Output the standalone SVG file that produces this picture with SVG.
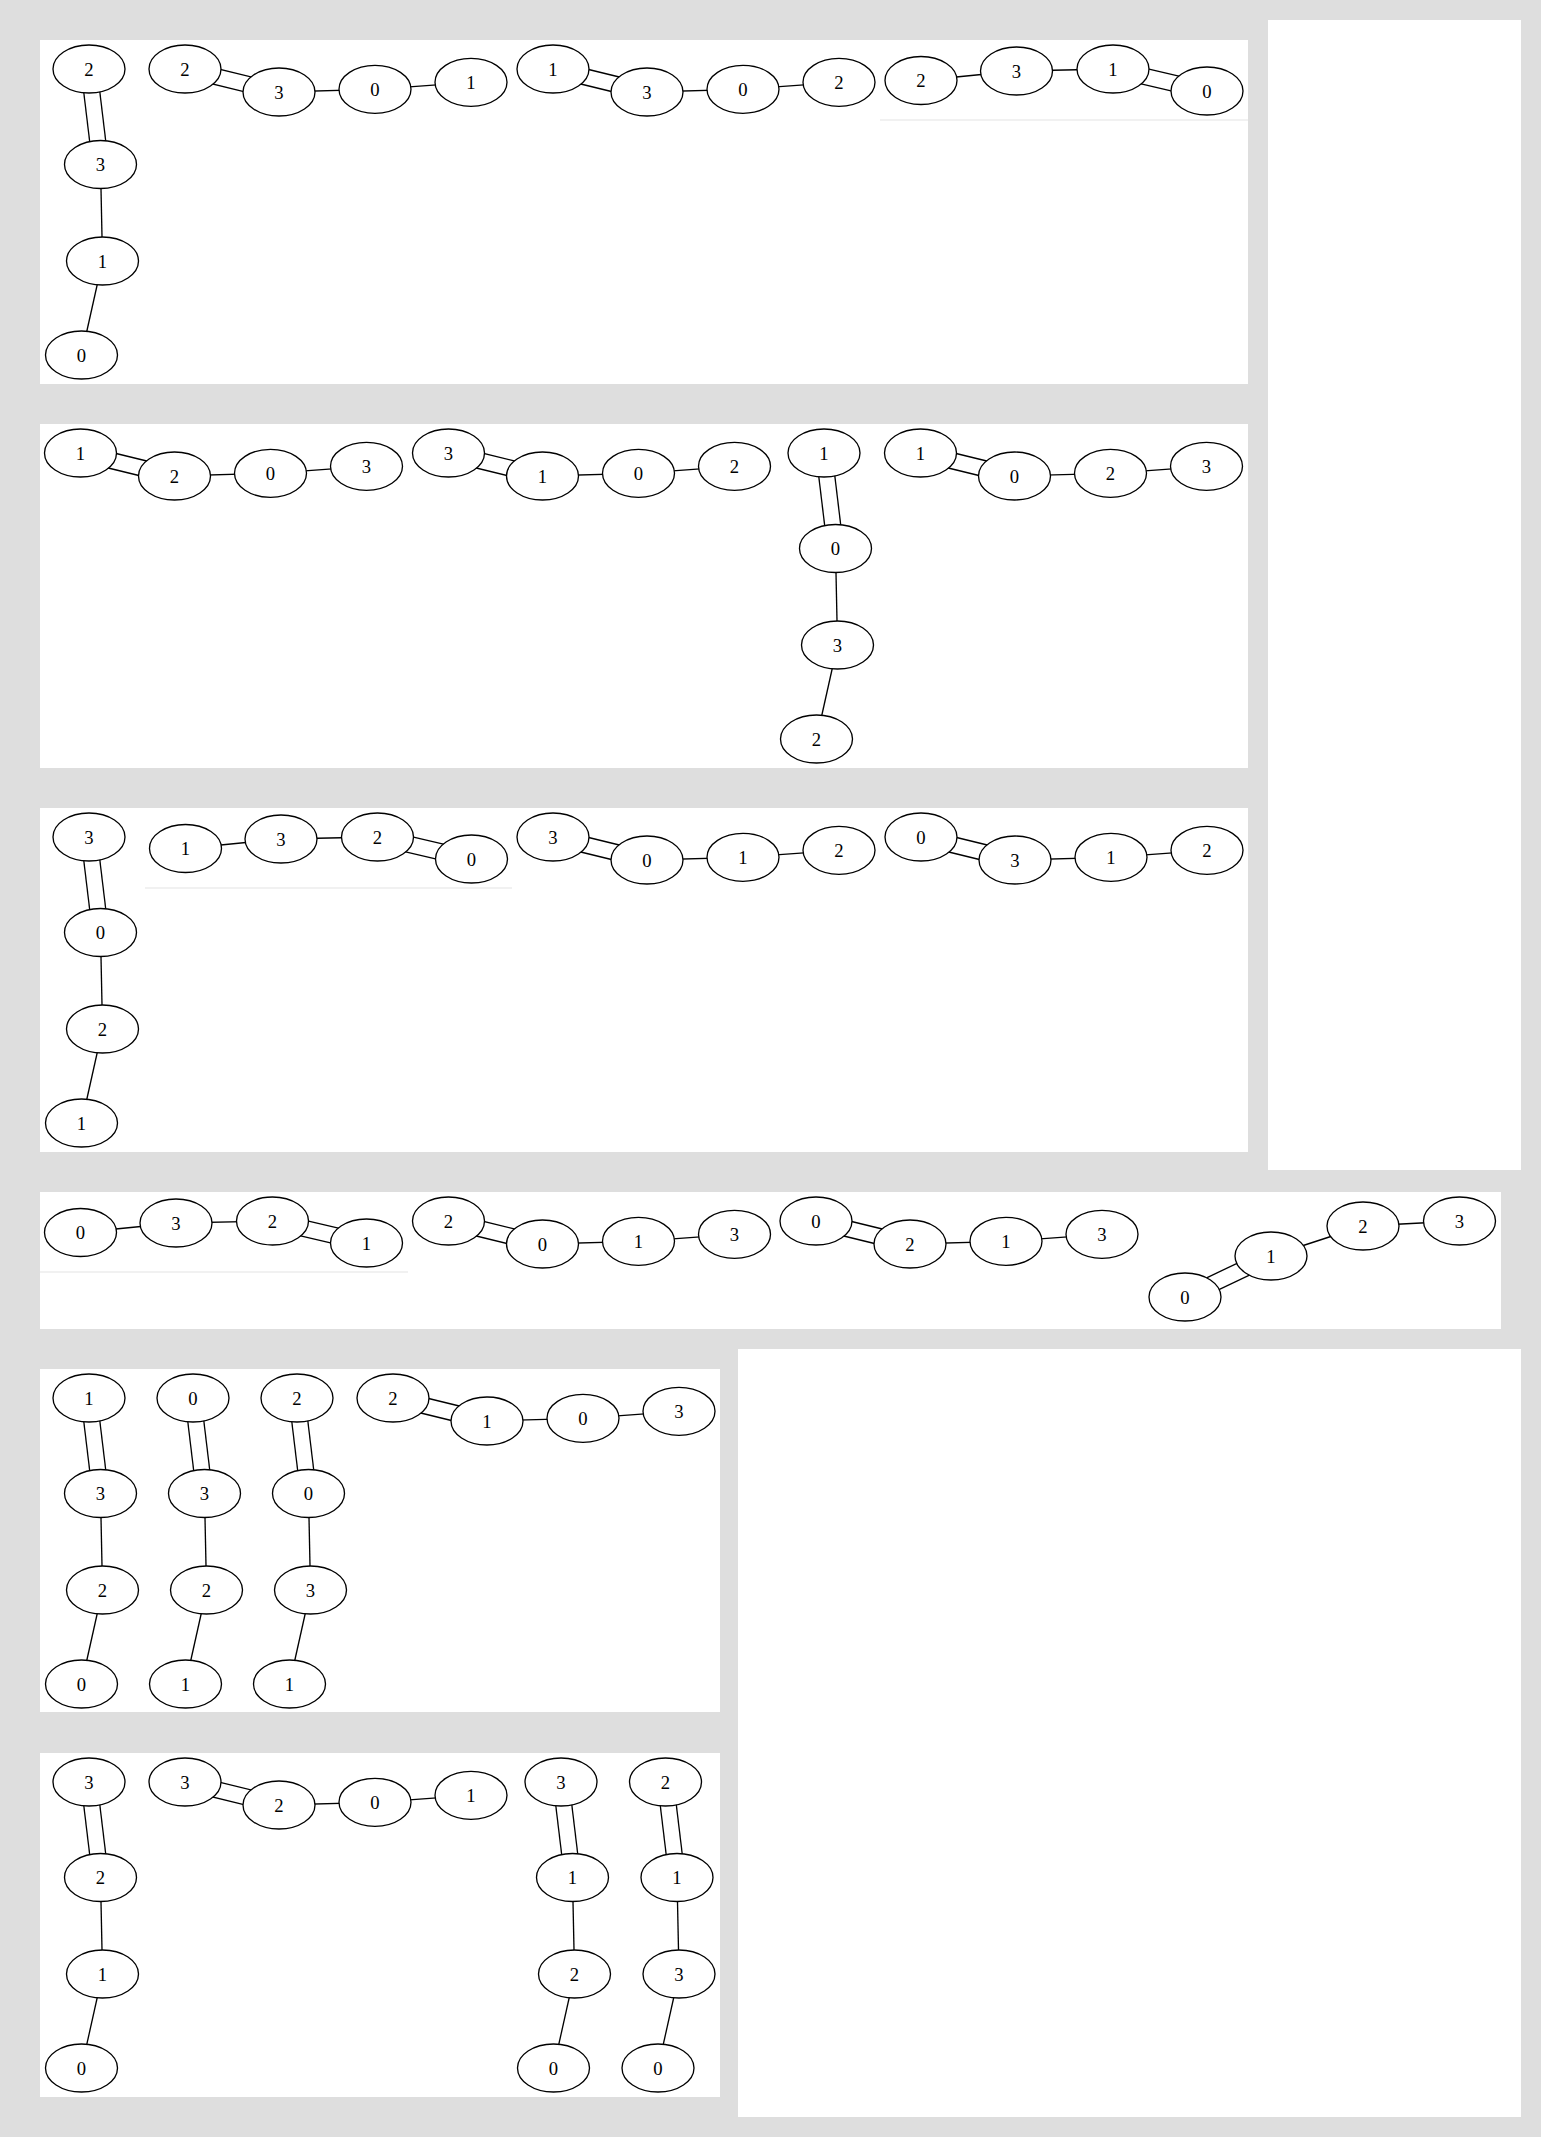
<svg xmlns="http://www.w3.org/2000/svg" width="1541" height="2137" viewBox="0 0 1541 2137">
<style>
.bg{fill:#dedede}
.panel{fill:#ffffff}
.faint{stroke:#ececec;stroke-width:1.5;fill:none}
.e{stroke:#000;stroke-width:1.33;fill:none}
.n ellipse{fill:#fff;stroke:#000;stroke-width:1.33}
.n text{font-family:"Liberation Serif","Times New Roman",serif;font-size:18.67px;text-anchor:middle;fill:#000}
</style>
<rect class="bg" x="0" y="0" width="1541" height="2137"/>
<g id="panels">
<rect class="panel" x="40" y="40" width="1208" height="344"/>
<rect class="panel" x="1268" y="20" width="253" height="1150"/>
<rect class="panel" x="40" y="424" width="1208" height="344"/>
<rect class="panel" x="40" y="808" width="1208" height="344"/>
<rect class="panel" x="40" y="1192" width="1461" height="137"/>
<rect class="panel" x="738" y="1349" width="783" height="768"/>
<rect class="panel" x="40" y="1369" width="680" height="343"/>
<rect class="panel" x="40" y="1753" width="680" height="344"/>
<line class="faint" x1="880" y1="120" x2="1248" y2="120"/>
<line class="faint" x1="145" y1="888" x2="512" y2="888"/>
<line class="faint" x1="40" y1="1272" x2="408" y2="1272"/>
</g>
<g id="connectors">
<!-- P1A -->
<line class="e" x1="81.06" y1="69.96" x2="92.56" y2="165.46"/><line class="e" x1="96.94" y1="68.04" x2="108.44" y2="163.54"/>
<line class="e" x1="100.5" y1="164.5" x2="102.5" y2="261"/><line class="e" x1="102.5" y1="261" x2="81.5" y2="355"/>
<!-- P1B -->
<line class="e" x1="183.1" y1="76.77" x2="277.1" y2="99.77"/><line class="e" x1="186.9" y1="61.23" x2="280.9" y2="84.23"/>
<line class="e" x1="279" y1="92" x2="375" y2="89.3"/><line class="e" x1="375" y1="89.3" x2="471" y2="82.3"/>
<!-- P1C -->
<line class="e" x1="551.1" y1="76.77" x2="645.1" y2="99.77"/><line class="e" x1="554.9" y1="61.23" x2="648.9" y2="84.23"/>
<line class="e" x1="647" y1="92" x2="743" y2="89.3"/><line class="e" x1="743" y1="89.3" x2="839" y2="82.3"/>
<!-- P1D -->
<line class="e" x1="921" y1="80.5" x2="1016.5" y2="71"/><line class="e" x1="1016.5" y1="71" x2="1113" y2="69"/>
<line class="e" x1="1111.18" y1="76.79" x2="1205.18" y2="98.79"/><line class="e" x1="1114.82" y1="61.21" x2="1208.82" y2="83.21"/>
<!-- P2A -->
<line class="e" x1="78.6" y1="460.77" x2="172.6" y2="483.77"/><line class="e" x1="82.4" y1="445.23" x2="176.4" y2="468.23"/>
<line class="e" x1="174.5" y1="476" x2="270.5" y2="473.3"/><line class="e" x1="270.5" y1="473.3" x2="366.5" y2="466.3"/>
<!-- P2B -->
<line class="e" x1="446.6" y1="460.77" x2="540.6" y2="483.77"/><line class="e" x1="450.4" y1="445.23" x2="544.4" y2="468.23"/>
<line class="e" x1="542.5" y1="476" x2="638.5" y2="473.3"/><line class="e" x1="638.5" y1="473.3" x2="734.5" y2="466.3"/>
<!-- P2C -->
<line class="e" x1="816.06" y1="453.96" x2="827.56" y2="549.46"/><line class="e" x1="831.94" y1="452.04" x2="843.44" y2="547.54"/>
<line class="e" x1="835.5" y1="548.5" x2="837.5" y2="645"/><line class="e" x1="837.5" y1="645" x2="816.5" y2="739"/>
<!-- P2D -->
<line class="e" x1="918.6" y1="460.77" x2="1012.6" y2="483.77"/><line class="e" x1="922.4" y1="445.23" x2="1016.4" y2="468.23"/>
<line class="e" x1="1014.5" y1="476" x2="1110.5" y2="473.3"/><line class="e" x1="1110.5" y1="473.3" x2="1206.5" y2="466.3"/>
<!-- P3A -->
<line class="e" x1="81.06" y1="837.96" x2="92.56" y2="933.46"/><line class="e" x1="96.94" y1="836.04" x2="108.44" y2="931.54"/>
<line class="e" x1="100.5" y1="932.5" x2="102.5" y2="1029"/><line class="e" x1="102.5" y1="1029" x2="81.5" y2="1123"/>
<!-- P3B -->
<line class="e" x1="185.5" y1="848.5" x2="281" y2="839"/><line class="e" x1="281" y1="839" x2="377.5" y2="837"/>
<line class="e" x1="375.68" y1="844.79" x2="469.68" y2="866.79"/><line class="e" x1="379.32" y1="829.21" x2="473.32" y2="851.21"/>
<!-- P3C -->
<line class="e" x1="551.1" y1="844.77" x2="645.1" y2="867.77"/><line class="e" x1="554.9" y1="829.23" x2="648.9" y2="852.23"/>
<line class="e" x1="647" y1="860" x2="743" y2="857.3"/><line class="e" x1="743" y1="857.3" x2="839" y2="850.3"/>
<!-- P3D -->
<line class="e" x1="919.1" y1="844.77" x2="1013.1" y2="867.77"/><line class="e" x1="922.9" y1="829.23" x2="1016.9" y2="852.23"/>
<line class="e" x1="1015" y1="860" x2="1111" y2="857.3"/><line class="e" x1="1111" y1="857.3" x2="1207" y2="850.3"/>
<!-- P4A -->
<line class="e" x1="80.5" y1="1232.5" x2="176" y2="1223"/><line class="e" x1="176" y1="1223" x2="272.5" y2="1221"/>
<line class="e" x1="270.68" y1="1228.79" x2="364.68" y2="1250.79"/><line class="e" x1="274.32" y1="1213.21" x2="368.32" y2="1235.21"/>
<!-- P4B -->
<line class="e" x1="446.6" y1="1228.77" x2="540.6" y2="1251.77"/><line class="e" x1="450.4" y1="1213.23" x2="544.4" y2="1236.23"/>
<line class="e" x1="542.5" y1="1244" x2="638.5" y2="1241.3"/><line class="e" x1="638.5" y1="1241.3" x2="734.5" y2="1234.3"/>
<!-- P4C -->
<line class="e" x1="814.1" y1="1228.77" x2="908.1" y2="1251.77"/><line class="e" x1="817.9" y1="1213.23" x2="911.9" y2="1236.23"/>
<line class="e" x1="910" y1="1244" x2="1006" y2="1241.3"/><line class="e" x1="1006" y1="1241.3" x2="1102" y2="1234.3"/>
<!-- P4D -->
<line class="e" x1="1188.44" y1="1304.22" x2="1274.44" y2="1263.22"/><line class="e" x1="1181.56" y1="1289.78" x2="1267.56" y2="1248.78"/>
<line class="e" x1="1271" y1="1256" x2="1363" y2="1226"/><line class="e" x1="1363" y1="1226" x2="1459.5" y2="1221"/>
<!-- P5A -->
<line class="e" x1="81.06" y1="1398.96" x2="92.56" y2="1494.46"/><line class="e" x1="96.94" y1="1397.04" x2="108.44" y2="1492.54"/>
<line class="e" x1="100.5" y1="1493.5" x2="102.5" y2="1590"/><line class="e" x1="102.5" y1="1590" x2="81.5" y2="1684"/>
<!-- P5B -->
<line class="e" x1="185.06" y1="1398.96" x2="196.56" y2="1494.46"/><line class="e" x1="200.94" y1="1397.04" x2="212.44" y2="1492.54"/>
<line class="e" x1="204.5" y1="1493.5" x2="206.5" y2="1590"/><line class="e" x1="206.5" y1="1590" x2="185.5" y2="1684"/>
<!-- P5C -->
<line class="e" x1="289.06" y1="1398.96" x2="300.56" y2="1494.46"/><line class="e" x1="304.94" y1="1397.04" x2="316.44" y2="1492.54"/>
<line class="e" x1="308.5" y1="1493.5" x2="310.5" y2="1590"/><line class="e" x1="310.5" y1="1590" x2="289.5" y2="1684"/>
<!-- P5D -->
<line class="e" x1="391.1" y1="1405.77" x2="485.1" y2="1428.77"/><line class="e" x1="394.9" y1="1390.23" x2="488.9" y2="1413.23"/>
<line class="e" x1="487" y1="1421" x2="583" y2="1418.3"/><line class="e" x1="583" y1="1418.3" x2="679" y2="1411.3"/>
<!-- P6A -->
<line class="e" x1="81.06" y1="1782.96" x2="92.56" y2="1878.46"/><line class="e" x1="96.94" y1="1781.04" x2="108.44" y2="1876.54"/>
<line class="e" x1="100.5" y1="1877.5" x2="102.5" y2="1974"/><line class="e" x1="102.5" y1="1974" x2="81.5" y2="2068"/>
<!-- P6B -->
<line class="e" x1="183.1" y1="1789.77" x2="277.1" y2="1812.77"/><line class="e" x1="186.9" y1="1774.23" x2="280.9" y2="1797.23"/>
<line class="e" x1="279" y1="1805" x2="375" y2="1802.3"/><line class="e" x1="375" y1="1802.3" x2="471" y2="1795.3"/>
<!-- P6C -->
<line class="e" x1="553.06" y1="1782.96" x2="564.56" y2="1878.46"/><line class="e" x1="568.94" y1="1781.04" x2="580.44" y2="1876.54"/>
<line class="e" x1="572.5" y1="1877.5" x2="574.5" y2="1974"/><line class="e" x1="574.5" y1="1974" x2="553.5" y2="2068"/>
<!-- P6D -->
<line class="e" x1="657.56" y1="1782.96" x2="669.06" y2="1878.46"/><line class="e" x1="673.44" y1="1781.04" x2="684.94" y2="1876.54"/>
<line class="e" x1="677" y1="1877.5" x2="679" y2="1974"/><line class="e" x1="679" y1="1974" x2="658" y2="2068"/>
</g>
<g id="nodes">
<g class="n" id="p1a-2"><ellipse cx="89" cy="69" rx="36" ry="24"/><text x="89" y="75.5">2</text></g>
<g class="n" id="p1a-3"><ellipse cx="100.5" cy="164.5" rx="36" ry="24"/><text x="100.5" y="171">3</text></g>
<g class="n" id="p1a-1"><ellipse cx="102.5" cy="261" rx="36" ry="24"/><text x="102.5" y="267.5">1</text></g>
<g class="n" id="p1a-0"><ellipse cx="81.5" cy="355" rx="36" ry="24"/><text x="81.5" y="361.5">0</text></g>

<g class="n" id="p1b-2"><ellipse cx="185" cy="69" rx="36" ry="24"/><text x="185" y="75.5">2</text></g>
<g class="n" id="p1b-3"><ellipse cx="279" cy="92" rx="36" ry="24"/><text x="279" y="98.5">3</text></g>
<g class="n" id="p1b-0"><ellipse cx="375" cy="89.3" rx="36" ry="24"/><text x="375" y="95.8">0</text></g>
<g class="n" id="p1b-1"><ellipse cx="471" cy="82.3" rx="36" ry="24"/><text x="471" y="88.8">1</text></g>

<g class="n" id="p1c-1"><ellipse cx="553" cy="69" rx="36" ry="24"/><text x="553" y="75.5">1</text></g>
<g class="n" id="p1c-3"><ellipse cx="647" cy="92" rx="36" ry="24"/><text x="647" y="98.5">3</text></g>
<g class="n" id="p1c-0"><ellipse cx="743" cy="89.3" rx="36" ry="24"/><text x="743" y="95.8">0</text></g>
<g class="n" id="p1c-2"><ellipse cx="839" cy="82.3" rx="36" ry="24"/><text x="839" y="88.8">2</text></g>

<g class="n" id="p1d-2"><ellipse cx="921" cy="80.5" rx="36" ry="24"/><text x="921" y="87">2</text></g>
<g class="n" id="p1d-3"><ellipse cx="1016.5" cy="71" rx="36" ry="24"/><text x="1016.5" y="77.5">3</text></g>
<g class="n" id="p1d-1"><ellipse cx="1113" cy="69" rx="36" ry="24"/><text x="1113" y="75.5">1</text></g>
<g class="n" id="p1d-0"><ellipse cx="1207" cy="91" rx="36" ry="24"/><text x="1207" y="97.5">0</text></g>

<g class="n" id="p2a-1"><ellipse cx="80.5" cy="453" rx="36" ry="24"/><text x="80.5" y="459.5">1</text></g>
<g class="n" id="p2a-2"><ellipse cx="174.5" cy="476" rx="36" ry="24"/><text x="174.5" y="482.5">2</text></g>
<g class="n" id="p2a-0"><ellipse cx="270.5" cy="473.3" rx="36" ry="24"/><text x="270.5" y="479.8">0</text></g>
<g class="n" id="p2a-3"><ellipse cx="366.5" cy="466.3" rx="36" ry="24"/><text x="366.5" y="472.8">3</text></g>

<g class="n" id="p2b-3"><ellipse cx="448.5" cy="453" rx="36" ry="24"/><text x="448.5" y="459.5">3</text></g>
<g class="n" id="p2b-1"><ellipse cx="542.5" cy="476" rx="36" ry="24"/><text x="542.5" y="482.5">1</text></g>
<g class="n" id="p2b-0"><ellipse cx="638.5" cy="473.3" rx="36" ry="24"/><text x="638.5" y="479.8">0</text></g>
<g class="n" id="p2b-2"><ellipse cx="734.5" cy="466.3" rx="36" ry="24"/><text x="734.5" y="472.8">2</text></g>

<g class="n" id="p2c-1"><ellipse cx="824" cy="453" rx="36" ry="24"/><text x="824" y="459.5">1</text></g>
<g class="n" id="p2c-0"><ellipse cx="835.5" cy="548.5" rx="36" ry="24"/><text x="835.5" y="555">0</text></g>
<g class="n" id="p2c-3"><ellipse cx="837.5" cy="645" rx="36" ry="24"/><text x="837.5" y="651.5">3</text></g>
<g class="n" id="p2c-2"><ellipse cx="816.5" cy="739" rx="36" ry="24"/><text x="816.5" y="745.5">2</text></g>

<g class="n" id="p2d-1"><ellipse cx="920.5" cy="453" rx="36" ry="24"/><text x="920.5" y="459.5">1</text></g>
<g class="n" id="p2d-0"><ellipse cx="1014.5" cy="476" rx="36" ry="24"/><text x="1014.5" y="482.5">0</text></g>
<g class="n" id="p2d-2"><ellipse cx="1110.5" cy="473.3" rx="36" ry="24"/><text x="1110.5" y="479.8">2</text></g>
<g class="n" id="p2d-3"><ellipse cx="1206.5" cy="466.3" rx="36" ry="24"/><text x="1206.5" y="472.8">3</text></g>

<g class="n" id="p3a-3"><ellipse cx="89" cy="837" rx="36" ry="24"/><text x="89" y="843.5">3</text></g>
<g class="n" id="p3a-0"><ellipse cx="100.5" cy="932.5" rx="36" ry="24"/><text x="100.5" y="939">0</text></g>
<g class="n" id="p3a-2"><ellipse cx="102.5" cy="1029" rx="36" ry="24"/><text x="102.5" y="1035.5">2</text></g>
<g class="n" id="p3a-1"><ellipse cx="81.5" cy="1123" rx="36" ry="24"/><text x="81.5" y="1129.5">1</text></g>

<g class="n" id="p3b-1"><ellipse cx="185.5" cy="848.5" rx="36" ry="24"/><text x="185.5" y="855">1</text></g>
<g class="n" id="p3b-3"><ellipse cx="281" cy="839" rx="36" ry="24"/><text x="281" y="845.5">3</text></g>
<g class="n" id="p3b-2"><ellipse cx="377.5" cy="837" rx="36" ry="24"/><text x="377.5" y="843.5">2</text></g>
<g class="n" id="p3b-0"><ellipse cx="471.5" cy="859" rx="36" ry="24"/><text x="471.5" y="865.5">0</text></g>

<g class="n" id="p3c-3"><ellipse cx="553" cy="837" rx="36" ry="24"/><text x="553" y="843.5">3</text></g>
<g class="n" id="p3c-0"><ellipse cx="647" cy="860" rx="36" ry="24"/><text x="647" y="866.5">0</text></g>
<g class="n" id="p3c-1"><ellipse cx="743" cy="857.3" rx="36" ry="24"/><text x="743" y="863.8">1</text></g>
<g class="n" id="p3c-2"><ellipse cx="839" cy="850.3" rx="36" ry="24"/><text x="839" y="856.8">2</text></g>

<g class="n" id="p3d-0"><ellipse cx="921" cy="837" rx="36" ry="24"/><text x="921" y="843.5">0</text></g>
<g class="n" id="p3d-3"><ellipse cx="1015" cy="860" rx="36" ry="24"/><text x="1015" y="866.5">3</text></g>
<g class="n" id="p3d-1"><ellipse cx="1111" cy="857.3" rx="36" ry="24"/><text x="1111" y="863.8">1</text></g>
<g class="n" id="p3d-2"><ellipse cx="1207" cy="850.3" rx="36" ry="24"/><text x="1207" y="856.8">2</text></g>

<g class="n" id="p4a-0"><ellipse cx="80.5" cy="1232.5" rx="36" ry="24"/><text x="80.5" y="1239">0</text></g>
<g class="n" id="p4a-3"><ellipse cx="176" cy="1223" rx="36" ry="24"/><text x="176" y="1229.5">3</text></g>
<g class="n" id="p4a-2"><ellipse cx="272.5" cy="1221" rx="36" ry="24"/><text x="272.5" y="1227.5">2</text></g>
<g class="n" id="p4a-1"><ellipse cx="366.5" cy="1243" rx="36" ry="24"/><text x="366.5" y="1249.5">1</text></g>

<g class="n" id="p4b-2"><ellipse cx="448.5" cy="1221" rx="36" ry="24"/><text x="448.5" y="1227.5">2</text></g>
<g class="n" id="p4b-0"><ellipse cx="542.5" cy="1244" rx="36" ry="24"/><text x="542.5" y="1250.5">0</text></g>
<g class="n" id="p4b-1"><ellipse cx="638.5" cy="1241.3" rx="36" ry="24"/><text x="638.5" y="1247.8">1</text></g>
<g class="n" id="p4b-3"><ellipse cx="734.5" cy="1234.3" rx="36" ry="24"/><text x="734.5" y="1240.8">3</text></g>

<g class="n" id="p4c-0"><ellipse cx="816" cy="1221" rx="36" ry="24"/><text x="816" y="1227.5">0</text></g>
<g class="n" id="p4c-2"><ellipse cx="910" cy="1244" rx="36" ry="24"/><text x="910" y="1250.5">2</text></g>
<g class="n" id="p4c-1"><ellipse cx="1006" cy="1241.3" rx="36" ry="24"/><text x="1006" y="1247.8">1</text></g>
<g class="n" id="p4c-3"><ellipse cx="1102" cy="1234.3" rx="36" ry="24"/><text x="1102" y="1240.8">3</text></g>

<g class="n" id="p4d-0"><ellipse cx="1185" cy="1297" rx="36" ry="24"/><text x="1185" y="1303.5">0</text></g>
<g class="n" id="p4d-1"><ellipse cx="1271" cy="1256" rx="36" ry="24"/><text x="1271" y="1262.5">1</text></g>
<g class="n" id="p4d-2"><ellipse cx="1363" cy="1226" rx="36" ry="24"/><text x="1363" y="1232.5">2</text></g>
<g class="n" id="p4d-3"><ellipse cx="1459.5" cy="1221" rx="36" ry="24"/><text x="1459.5" y="1227.5">3</text></g>

<g class="n" id="p5a-1"><ellipse cx="89" cy="1398" rx="36" ry="24"/><text x="89" y="1404.5">1</text></g>
<g class="n" id="p5a-3"><ellipse cx="100.5" cy="1493.5" rx="36" ry="24"/><text x="100.5" y="1500">3</text></g>
<g class="n" id="p5a-2"><ellipse cx="102.5" cy="1590" rx="36" ry="24"/><text x="102.5" y="1596.5">2</text></g>
<g class="n" id="p5a-0"><ellipse cx="81.5" cy="1684" rx="36" ry="24"/><text x="81.5" y="1690.5">0</text></g>

<g class="n" id="p5b-0"><ellipse cx="193" cy="1398" rx="36" ry="24"/><text x="193" y="1404.5">0</text></g>
<g class="n" id="p5b-3"><ellipse cx="204.5" cy="1493.5" rx="36" ry="24"/><text x="204.5" y="1500">3</text></g>
<g class="n" id="p5b-2"><ellipse cx="206.5" cy="1590" rx="36" ry="24"/><text x="206.5" y="1596.5">2</text></g>
<g class="n" id="p5b-1"><ellipse cx="185.5" cy="1684" rx="36" ry="24"/><text x="185.5" y="1690.5">1</text></g>

<g class="n" id="p5c-2"><ellipse cx="297" cy="1398" rx="36" ry="24"/><text x="297" y="1404.5">2</text></g>
<g class="n" id="p5c-0"><ellipse cx="308.5" cy="1493.5" rx="36" ry="24"/><text x="308.5" y="1500">0</text></g>
<g class="n" id="p5c-3"><ellipse cx="310.5" cy="1590" rx="36" ry="24"/><text x="310.5" y="1596.5">3</text></g>
<g class="n" id="p5c-1"><ellipse cx="289.5" cy="1684" rx="36" ry="24"/><text x="289.5" y="1690.5">1</text></g>

<g class="n" id="p5d-2"><ellipse cx="393" cy="1398" rx="36" ry="24"/><text x="393" y="1404.5">2</text></g>
<g class="n" id="p5d-1"><ellipse cx="487" cy="1421" rx="36" ry="24"/><text x="487" y="1427.5">1</text></g>
<g class="n" id="p5d-0"><ellipse cx="583" cy="1418.3" rx="36" ry="24"/><text x="583" y="1424.8">0</text></g>
<g class="n" id="p5d-3"><ellipse cx="679" cy="1411.3" rx="36" ry="24"/><text x="679" y="1417.8">3</text></g>

<g class="n" id="p6a-3"><ellipse cx="89" cy="1782" rx="36" ry="24"/><text x="89" y="1788.5">3</text></g>
<g class="n" id="p6a-2"><ellipse cx="100.5" cy="1877.5" rx="36" ry="24"/><text x="100.5" y="1884">2</text></g>
<g class="n" id="p6a-1"><ellipse cx="102.5" cy="1974" rx="36" ry="24"/><text x="102.5" y="1980.5">1</text></g>
<g class="n" id="p6a-0"><ellipse cx="81.5" cy="2068" rx="36" ry="24"/><text x="81.5" y="2074.5">0</text></g>

<g class="n" id="p6b-3"><ellipse cx="185" cy="1782" rx="36" ry="24"/><text x="185" y="1788.5">3</text></g>
<g class="n" id="p6b-2"><ellipse cx="279" cy="1805" rx="36" ry="24"/><text x="279" y="1811.5">2</text></g>
<g class="n" id="p6b-0"><ellipse cx="375" cy="1802.3" rx="36" ry="24"/><text x="375" y="1808.8">0</text></g>
<g class="n" id="p6b-1"><ellipse cx="471" cy="1795.3" rx="36" ry="24"/><text x="471" y="1801.8">1</text></g>

<g class="n" id="p6c-3"><ellipse cx="561" cy="1782" rx="36" ry="24"/><text x="561" y="1788.5">3</text></g>
<g class="n" id="p6c-1"><ellipse cx="572.5" cy="1877.5" rx="36" ry="24"/><text x="572.5" y="1884">1</text></g>
<g class="n" id="p6c-2"><ellipse cx="574.5" cy="1974" rx="36" ry="24"/><text x="574.5" y="1980.5">2</text></g>
<g class="n" id="p6c-0"><ellipse cx="553.5" cy="2068" rx="36" ry="24"/><text x="553.5" y="2074.5">0</text></g>

<g class="n" id="p6d-2"><ellipse cx="665.5" cy="1782" rx="36" ry="24"/><text x="665.5" y="1788.5">2</text></g>
<g class="n" id="p6d-1"><ellipse cx="677" cy="1877.5" rx="36" ry="24"/><text x="677" y="1884">1</text></g>
<g class="n" id="p6d-3"><ellipse cx="679" cy="1974" rx="36" ry="24"/><text x="679" y="1980.5">3</text></g>
<g class="n" id="p6d-0"><ellipse cx="658" cy="2068" rx="36" ry="24"/><text x="658" y="2074.5">0</text></g>
</g>
</svg>
